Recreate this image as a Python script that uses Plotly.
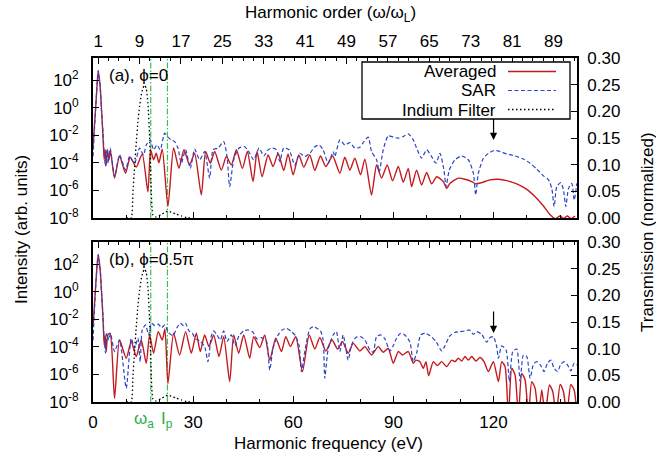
import plotly.graph_objects as go

# Driving-laser photon energy and the two marked energies (eV)
omega_L = 1.55
omega_a = 17.3
I_p = 22.3

harmonic_orders = [1, 9, 17, 25, 33, 41, 49, 57, 65, 73, 81, 89]
energy_ticks = [0, 30, 60, 90, 120]
intensity_ticks = [1e-8, 1e-6, 1e-4, 1e-2, 1e0, 1e2]
intensity_labels = ["10<sup>-8</sup>", "10<sup>-6</sup>", "10<sup>-4</sup>",
                    "10<sup>-2</sup>", "10<sup>0</sup>", "10<sup>2</sup>"]

# ---- panel (a), phi = 0 -------------------------------------------------
avg_a_E = [0.0, 0.95, 1.55, 2.15, 2.55, 2.95, 3.35, 3.65, 3.95, 4.35, 4.75, 5.25,
           6.45, 7.95, 9.75, 11.15, 12.95, 14.75, 16.45, 17.25, 18.15, 18.95, 19.75,
           20.75, 22.45, 24.15, 25.75, 27.25, 28.95, 30.45, 32.45, 33.75, 35.15,
           36.45, 38.45, 39.95, 41.45, 42.95, 44.75, 46.25, 47.95, 49.15, 50.65,
           52.45, 53.95, 55.45, 57.15, 58.45, 59.95, 61.65, 63.15, 64.95, 66.45,
           68.15, 69.75, 71.8, 73.95, 75.45, 76.95, 78.45, 80.15, 81.45, 83.45,
           84.95, 86.45, 88.15, 89.75, 91.45, 92.95, 94.45, 95.45, 96.95, 98.45,
           99.95, 101.45, 102.95, 104.95, 105.95, 106.95, 109.45, 111.45, 113.45,
           114.65, 116.45, 118.95, 121.45, 123.95, 126.95, 129.95, 132.45, 134.95,
           136.95, 138.45, 139.95, 140.95, 142.15, 143.15, 144.45]
avg_a_I = [1.5e-3, 3.8, 4.5e2, 35, 0.72, 1.4e-2, 1.7e-4, 9e-4, 7e-5, 9e-4, 1.7e-4, 7e-4,
           8e-6, 3.2e-4, 1.8e-5, 2.6e-4, 5e-5, 4.5e-4, 8e-7, 9e-4, 1.7e-4, 5e-4, 1e-4,
           1e-3, 7e-8, 1.2e-3, 4e-5, 9e-4, 7e-5, 5e-4, 4.7e-7, 6.7e-4, 9.5e-5,
           6.7e-4, 3e-5, 2.9e-4, 7e-5, 9e-4, 4e-5, 6.7e-4, 4.4e-6, 6.7e-4, 1e-5,
           3.8e-4, 5.5e-5, 5e-4, 2.8e-5, 4.5e-4, 1.35e-5, 3.8e-4, 5e-5, 3.8e-4, 2.8e-5,
           3.2e-4, 5.5e-5, 3.2e-4, 1.8e-5, 2.6e-4, 3e-5, 2.2e-4, 1.35e-5, 1.9e-4, 4.7e-7,
           7e-5, 8e-6, 7e-5, 5e-6, 5.5e-5, 4e-6, 4e-5, 1.9e-6, 3e-5, 2.5e-6,
           2e-5, 3e-6, 1e-5, 4.4e-6, 1.4e-6, 3.3e-6, 7.8e-6, 6.5e-6, 4.4e-6,
           3e-6, 3.7e-6, 5.9e-6, 6.5e-6, 5.2e-6, 3e-6, 1.2e-6, 3.5e-7, 7.4e-8,
           1.7e-8, 9e-9, 1.4e-8, 9e-9, 1.4e-8, 9e-9, 1.4e-8]

sar_a_E = [0.0, 0.95, 1.55, 2.15, 2.55, 2.95, 3.35, 3.75, 4.15, 4.55, 5.15, 6.45,
           7.95, 9.75, 10.95, 12.45, 13.95, 15.15, 15.95, 17.15, 18.15, 19.15, 20.15,
           21.45, 22.45, 23.45, 24.45, 25.45, 26.45, 27.75, 29.15, 30.45, 31.95,
           33.45, 34.95, 35.95, 37.45, 39.15, 40.15, 40.95, 42.15, 43.75, 45.45,
           46.95, 48.15, 49.75, 51.15, 52.45, 53.75, 54.95, 55.95, 57.15, 58.75,
           60.45, 61.95, 63.45, 64.95, 66.45, 67.75, 68.95, 70.45, 71.95, 72.45,
           73.95, 75.45, 76.95, 78.45, 79.95, 80.95, 82.45, 83.45, 84.95, 85.75,
           86.95, 88.45, 89.95, 91.45, 92.95, 94.45, 95.95, 97.15, 98.45, 99.95,
           101.45, 102.75, 103.95, 105.15, 105.75, 106.75, 108.45, 110.45, 112.45,
           113.95, 114.65, 115.45, 116.95, 118.45, 120.15, 121.95, 123.95, 126.45,
           128.95, 130.95, 132.95, 134.95, 136.45, 137.45, 138.15, 138.95, 140.15,
           140.95, 141.65, 142.45, 143.45, 144.15, 144.95]
sar_a_I = [3e-4, 3.8, 5e2, 35, 0.72, 2.5e-2, 5e-4, 5.5e-5, 9e-4, 9.5e-5, 1.2e-3, 1e-5,
           3.8e-4, 3e-5, 2.9e-4, 9.5e-5, 1.2e-3, 3.8e-4, 2e-3, 4.7e-3, 9e-4, 2e-3, 9e-4,
           1.45e-2, 7.4e-3, 4.7e-3, 3.5e-3, 1.2e-3, 9.5e-5, 9e-4, 4e-5, 1e-3, 1.7e-4,
           6.7e-4, 7.8e-6, 9e-4, 1.2e-3, 3.5e-3, 2.9e-4, 1.9e-6, 1.7e-4, 1.2e-3, 1.5e-3,
           5e-4, 1.7e-4, 1.2e-3, 3.2e-4, 9e-4, 1.2e-3, 9e-4, 1.26e-4, 1.2e-3, 9e-4,
           7e-5, 5e-4, 2.9e-4, 5e-4, 1.5e-3, 2e-3, 9e-4, 9.5e-5, 6.7e-4, 2.9e-4,
           4.7e-3, 2e-3, 3e-3, 1.2e-3, 1.4e-3, 3e-3, 7.4e-3, 6.7e-4, 1.7e-4, 2.3e-5,
           9e-4, 9.3e-3, 7.4e-3, 6.3e-3, 8.3e-3, 1.3e-2, 4.7e-3, 9e-4, 2.2e-4, 9e-4,
           2.9e-4, 9.5e-5, 5e-4, 3e-5, 1.9e-6, 3e-5, 1.7e-4, 3.2e-4, 1.7e-4,
           1.8e-5, 4.7e-7, 1.8e-5, 2.2e-4, 5e-4, 8e-4, 6.7e-4, 4.5e-4, 3.2e-4,
           1.9e-4, 9.5e-5, 3.5e-5, 1.15e-5, 5.9e-6, 1.4e-6, 6.8e-8, 1.9e-6, 3.7e-6,
           1.1e-6, 6.8e-8, 1.4e-6, 3.3e-6, 2e-7, 3.3e-6]

# ---- panel (b), phi = 0.5 pi ----------------------------------------------
avg_b_E = [0.0, 0.95, 1.55, 2.15, 2.55, 2.95, 3.35, 3.65, 3.95, 4.45, 5.15, 6.45,
           7.95, 9.95, 11.45, 12.95, 14.45, 15.95, 16.95, 18.15, 19.55, 20.75, 21.55,
           22.45, 24.15, 25.95, 27.75, 29.45, 30.95, 32.15, 33.45, 34.75, 36.15,
           37.75, 39.15, 40.95, 42.15, 43.65, 45.15, 46.95, 48.15, 49.95, 51.45,
           52.95, 54.75, 56.45, 57.75, 59.15, 60.75, 62.75, 64.75, 66.45, 67.95,
           69.75, 71.6, 73.3, 74.75, 76.45, 77.95, 79.95, 81.45, 83.45, 85.45,
           86.95, 88.45, 89.95, 91.45, 92.75, 94.45, 95.95, 96.75, 97.95, 98.95,
           99.75, 100.55, 101.95, 103.15, 104.45, 105.95, 107.45, 108.45, 109.45,
           110.45, 111.45, 112.45, 113.45, 114.75, 115.95, 117.15, 118.45, 119.95,
           121.45, 122.45, 123.45, 124.45, 125.45, 126.45, 127.45, 128.45, 129.45,
           130.45, 131.45, 132.45, 133.45, 134.45, 135.45, 136.75, 137.75, 138.75,
           139.95, 140.95, 141.95, 143.15, 144.15, 145.0]
avg_b_I = [3e-3, 9.8, 4.9e2, 40, 1.05, 2.1e-2, 1.4e-4, 7.4e-4, 4.6e-5, 7.4e-4, 9.8e-4, 1.8e-8,
           3.2e-4, 1.5e-5, 2.5e-4, 2e-5, 3.2e-4, 6.5e-6, 7.4e-4, 3.5e-5, 1.3e-3, 3.2e-4, 2e-3,
           2.2e-7, 9.8e-4, 2.6e-5, 1.3e-3, 3.5e-5, 9.8e-4, 4.6e-5, 7.4e-4, 1.05e-4, 7.4e-4,
           2e-5, 5.6e-4, 3e-7, 7.4e-4, 3.5e-5, 7.4e-4, 1.5e-5, 5.6e-4, 8.9e-5, 7.4e-4,
           1.1e-5, 4.3e-4, 4.6e-5, 5.6e-4, 1.05e-4, 5.6e-4, 1.6e-6, 7.4e-4, 7e-5, 4.8e-4,
           5.1e-5, 3.2e-4, 7e-5, 2.5e-4, 3.5e-5, 1.8e-4, 5.1e-5, 1.05e-4, 2.6e-5, 1.05e-4,
           4.1e-5, 8e-5, 6.5e-6, 4.6e-5, 2.6e-5, 4.6e-5, 6.5e-6, 1.1e-5, 8.5e-6, 2.8e-6,
           8.5e-6, 8.1e-7, 8.5e-6, 4.4e-6, 8.5e-6, 3.7e-6, 1.1e-5, 8.5e-6, 1.5e-5,
           9.5e-6, 2e-5, 1.1e-5, 2e-5, 9.5e-6, 1.7e-5, 8.5e-6, 1.6e-6, 8.5e-6,
           3e-7, 8.5e-6, 3.7e-6, 1e-9, 2.8e-6, 9e-7, 1e-9, 1.2e-6, 4e-7,
           1e-9, 3e-7, 1e-7, 1e-9, 7.4e-8, 1e-9, 1.7e-7, 5.6e-8, 1e-9,
           1.9e-7, 5.6e-8, 1e-9, 1.9e-7, 7.4e-8, 1e-9]

sar_b_E = [0.0, 0.95, 1.55, 2.15, 2.55, 2.95, 3.35, 3.75, 4.15, 4.75, 5.25, 6.45,
           7.95, 9.95, 11.45, 12.45, 13.45, 14.15, 14.75, 15.75, 16.65, 17.55, 18.55,
           19.55, 20.55, 21.55, 22.55, 23.95, 25.15, 26.15, 27.15, 27.75, 28.75,
           29.75, 30.75, 32.15, 33.45, 34.45, 35.45, 36.15, 37.15, 38.15, 39.15,
           40.15, 41.45, 42.55, 43.75, 45.15, 46.65, 47.95, 49.15, 50.45, 51.95,
           52.95, 53.95, 55.45, 56.65, 57.95, 59.45, 60.65, 61.75, 62.45, 63.45,
           64.95, 66.15, 67.15, 68.15, 68.95, 69.45, 70.45, 71.95, 72.9, 73.95,
           74.95, 76.45, 77.45, 78.75, 80.15, 81.45, 82.95, 83.95, 84.95, 86.15,
           87.45, 88.95, 89.95, 90.95, 92.15, 93.45, 94.95, 95.95, 96.95, 98.15,
           99.45, 100.95, 102.75, 104.45, 105.45, 106.95, 108.45, 109.95, 111.45,
           112.75, 113.95, 114.95, 116.45, 117.95, 118.95, 119.95, 120.95, 121.45,
           122.45, 123.75, 124.75, 125.75, 126.95, 127.95, 128.95, 129.95, 130.95,
           131.95, 132.95, 134.15, 135.15, 136.15, 137.15, 138.15, 139.15, 140.15,
           141.15, 142.15, 143.15, 144.15, 145.0]
sar_b_I = [3e-4, 9.8, 5e2, 40, 1.05, 2.5e-2, 4.3e-4, 3.5e-5, 9.8e-4, 3.2e-4, 9.8e-4, 4.6e-5,
           3.2e-4, 1e-7, 4.3e-4, 8e-5, 4.3e-4, 8.5e-6, 1.7e-3, 4e-3, 7.4e-4, 5.2e-3, 3.5e-3,
           4.5e-3, 2.5e-3, 4e-3, 1.15e-3, 6.6e-4, 2.5e-3, 5.2e-3, 3.5e-3, 5.2e-3, 1.45e-3,
           9.8e-4, 3.8e-4, 2.5e-4, 1.05e-4, 8.5e-6, 6.6e-4, 1.45e-3, 7.4e-4, 3.2e-4, 1.45e-3,
           2.5e-4, 7.4e-4, 1.2e-4, 6.6e-4, 1.45e-3, 1.7e-3, 1.15e-3, 3.8e-4, 4.8e-4, 2.7e-4,
           2.1e-6, 8e-5, 7.4e-4, 1.7e-3, 2.2e-3, 1.3e-3, 6.6e-4, 1.2e-4, 1.6e-6, 4.6e-5,
           2e-3, 3e-3, 2.2e-3, 1.45e-3, 3.2e-4, 5.3e-7, 7e-5, 7.4e-4, 1.3e-3, 4.6e-5,
           7.4e-4, 1.1e-5, 1.4e-4, 4.8e-4, 5.6e-4, 3.2e-4, 6e-5, 4.1e-5, 5.6e-4, 7.4e-4,
           3.8e-4, 5.1e-5, 1.2e-4, 4.3e-4, 9.8e-4, 7.4e-4, 2.2e-4, 8.5e-6, 3.5e-5, 7.4e-4,
           9.8e-4, 6.6e-4, 2.5e-4, 5.1e-5, 1.2e-4, 6.6e-4, 1.15e-3, 1.3e-3, 1.45e-3,
           1.7e-3, 8.3e-4, 1.3e-3, 8.3e-4, 2.2e-4, 4.8e-4, 5.6e-4, 1.05e-4, 1.5e-5,
           1.2e-4, 6e-5, 3e-7, 4.6e-5, 7e-5, 3e-7, 2.6e-5, 2e-5, 5.3e-7,
           5.5e-6, 8.5e-6, 4.4e-6, 1.6e-6, 6.5e-6, 1.1e-5, 2.8e-6, 1.6e-6, 5.5e-6,
           8.5e-6, 4.9e-6, 1.8e-6, 6.5e-6, 4.9e-6]

# ---- indium filter transmission (same in both panels) ---------------------
filter_E = [10.0, 11.45, 11.95, 12.45, 12.95, 13.45, 13.95, 14.45, 14.95, 15.45, 15.95,
            16.45, 16.95, 17.45, 17.95, 18.95, 20.45, 21.45, 22.45, 23.45, 24.95, 26.45,
            27.95, 29.5]
filter_T = [0.0, 0.0, 0.046, 0.096, 0.14, 0.18, 0.209, 0.23, 0.243, 0.249, 0.243,
            0.215, 0.152, 0.0525, 0.006, 0.002, 0.007, 0.010, 0.013, 0.011, 0.007, 0.004,
            0.001, 0.0]

FONT = "Liberation Sans, Arial, Helvetica, sans-serif"
FS = 17
RED = "#c41a1f"
BLUE = "#2b45c4"
GREEN = "#3cc04e"
GREEN_TEXT = "#2fae4a"
BLACK = "#000000"
E_RANGE = [0, 145]

DASH_SAR = "4px,2.5px"
DASH_FILTER = "1.5px,2.5px"
DASH_GREEN = "6px,2px,1.5px,2px"

fig = go.Figure()

panels = [
    # (avg E, avg I, sar E, sar I, x bottom, x top, y left, y right)
    (avg_a_E, avg_a_I, sar_a_E, sar_a_I, "x", "x3", "y", "y2"),
    (avg_b_E, avg_b_I, sar_b_E, sar_b_I, "x2", "x4", "y3", "y4"),
]
for aE, aI, sE, sI, xb, xt, yl, yr in panels:
    fig.add_trace(go.Scatter(x=aE, y=aI, xaxis=xb, yaxis=yl, mode="lines",
                             line=dict(color=RED, width=1.4, shape="spline", smoothing=0.6),
                             name="Averaged", showlegend=False))
    fig.add_trace(go.Scatter(x=sE, y=sI, xaxis=xb, yaxis=yl, mode="lines",
                             line=dict(color=BLUE, width=1.2, dash=DASH_SAR,
                                       shape="spline", smoothing=0.6),
                             name="SAR", showlegend=False))
    fig.add_trace(go.Scatter(x=filter_E, y=filter_T, xaxis=xt, yaxis=yr, mode="lines",
                             line=dict(color=BLACK, width=1.3, dash=DASH_FILTER,
                                       shape="spline", smoothing=0.5),
                             name="Indium Filter", showlegend=False))

dom_a = [184 / 344, 1.0]
dom_b = [0.0, 160 / 344]

frame = dict(showline=True, linecolor="black", linewidth=1.8, ticks="inside",
             tickcolor="black", tickwidth=1, showgrid=False, zeroline=False,
             tickfont=dict(family=FONT, size=FS, color="black"))

def bottom_axis(anchor, labels):
    return dict(frame, anchor=anchor, domain=[0, 1], range=E_RANGE, mirror=True,
                tickmode="array", tickvals=energy_ticks, ticklen=6,
                showticklabels=labels, ticklabelstandoff=4,
                minor=dict(ticks="inside", ticklen=3, tickmode="linear", tick0=0, dtick=10,
                           tickcolor="black", showgrid=False))

def top_axis(over, anchor, labels):
    return dict(frame, overlaying=over, anchor=anchor, side="top", range=E_RANGE,
                tickmode="array", tickvals=[h * omega_L for h in harmonic_orders],
                ticktext=[str(h) for h in harmonic_orders], ticklen=6,
                showticklabels=labels, ticklabelstandoff=2,
                minor=dict(ticks="inside", ticklen=3, tickmode="linear", tick0=omega_L,
                           dtick=2 * omega_L, tickcolor="black", showgrid=False))

def left_axis(dom, anchor):
    return dict(frame, domain=dom, anchor=anchor, type="log", range=[-8, 3.62],
                mirror=True, tickmode="array", tickvals=intensity_ticks,
                ticktext=intensity_labels, ticklen=6, ticklabelstandoff=9)

def right_axis(over, anchor):
    return dict(frame, overlaying=over, anchor=anchor, side="right", range=[0, 0.30],
                tickmode="linear", tick0=0, dtick=0.05, tickformat=".2f", ticklen=6,
                ticklabelstandoff=5)

fig.update_layout(
    width=656, height=461,
    margin=dict(l=93, r=79, t=58, b=59),
    paper_bgcolor="white", plot_bgcolor="white",
    font=dict(family=FONT, size=FS, color="black"),
    showlegend=False,
    xaxis=bottom_axis("y", False),
    xaxis2=bottom_axis("y3", True),
    xaxis3=top_axis("x", "y", True),
    xaxis4=top_axis("x2", "y3", False),
    yaxis=left_axis(dom_a, "x"),
    yaxis2=right_axis("y", "x"),
    yaxis3=left_axis(dom_b, "x2"),
    yaxis4=right_axis("y3", "x2"),
)

# marked energies: vertical dash-dot lines in both panels
shapes = []
for xr, yr in (("x", "y"), ("x2", "y3")):
    for e in (omega_a, I_p):
        shapes.append(dict(type="line", xref=xr, yref=yr + " domain", x0=e, x1=e,
                           y0=0, y1=1, layer="below",
                           line=dict(color=GREEN, width=1.2, dash=DASH_GREEN)))

# legend box (panel a, top right)
def px_x(p):
    return (p - 93) / 484

def px_y(p):
    return (402 - p) / 344

shapes.append(dict(type="rect", xref="paper", yref="paper",
                   x0=px_x(362), x1=px_x(570), y0=px_y(119), y1=px_y(62),
                   line=dict(color="black", width=1.3), fillcolor="white", layer="above"))
legend_rows = [("Averaged", dict(color=RED, width=1.5)),
               ("SAR", dict(color=BLUE, width=1.2, dash=DASH_SAR)),
               ("Indium Filter", dict(color=BLACK, width=1.3, dash=DASH_FILTER))]
annotations = []
for k, (label, style) in enumerate(legend_rows):
    yc = 71.5 + 19 * k
    shapes.append(dict(type="line", xref="paper", yref="paper", x0=px_x(508), x1=px_x(556),
                       y0=px_y(yc), y1=px_y(yc), line=style, layer="above"))
    annotations.append(dict(text=label, xref="paper", yref="paper", x=px_x(497), y=px_y(yc),
                            xanchor="right", yanchor="middle", showarrow=False,
                            height=18, borderpad=0, valign="middle",
                            font=dict(family=FONT, size=FS, color="black")))

# panel labels
annotations.append(dict(text="(a), ϕ=0", xref="paper", yref="paper", x=px_x(107), y=px_y(75),
                        xanchor="left", yanchor="middle", showarrow=False))
annotations.append(dict(text="(b), ϕ=0.5π", xref="paper", yref="paper", x=px_x(107),
                        y=px_y(259), xanchor="left", yanchor="middle", showarrow=False))

# arrows marking the cutoff region
arrow_E = 120
for xr, yr, head, tail in (("x", "y", -2.33, -0.7), ("x2", "y3", -2.98, -1.31)):
    annotations.append(dict(x=arrow_E, y=head, xref=xr, yref=yr, ax=arrow_E, ay=tail,
                            axref=xr, ayref=yr, showarrow=True, arrowhead=2,
                            arrowsize=1.2, arrowwidth=1.2, arrowcolor="black", text=""))

# green labels under the energy axis
annotations.append(dict(text="ω<sub>a</sub>", xref="x2", yref="paper", x=omega_a, y=px_y(420),
                        xanchor="center", yanchor="middle", xshift=-7, showarrow=False,
                        font=dict(family=FONT, size=FS, color=GREEN_TEXT)))
annotations.append(dict(text="I<sub>p</sub>", xref="x2", yref="paper", x=I_p, y=px_y(420),
                        xanchor="center", yanchor="middle", showarrow=False,
                        font=dict(family=FONT, size=FS, color=GREEN_TEXT)))

# axis titles
annotations.append(dict(text="Harmonic order (ω/ω<sub>L</sub>)", xref="paper", yref="paper",
                        x=px_x(330), y=px_y(14), xanchor="center", yanchor="middle",
                        showarrow=False))
annotations.append(dict(text="Harmonic frequency (eV)", xref="paper", yref="paper",
                        x=px_x(328), y=px_y(443), xanchor="center", yanchor="middle",
                        showarrow=False))
annotations.append(dict(text="Intensity (arb. units)", xref="paper", yref="paper",
                        x=px_x(21), y=px_y(230), xanchor="center", yanchor="middle",
                        textangle=-90, showarrow=False))
annotations.append(dict(text="Transmission (normalized)", xref="paper", yref="paper",
                        x=px_x(647), y=px_y(232), xanchor="center", yanchor="middle",
                        textangle=-90, showarrow=False))

fig.update_layout(shapes=shapes, annotations=annotations)
fig.write_html("out.html")
